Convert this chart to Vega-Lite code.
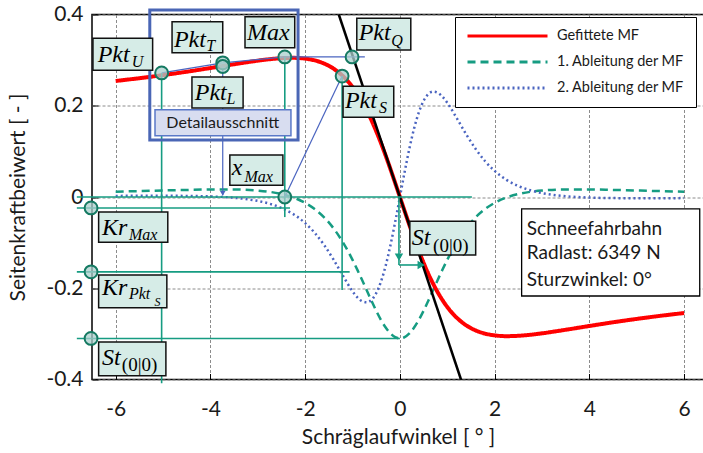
{
  "$schema": "https://vega.github.io/schema/vega-lite/v6.json",
  "width": 612,
  "height": 365,
  "autosize": {"type": "none"},
  "padding": {"left": 92, "top": 14.5, "right": 0, "bottom": 73.5},
  "background": "white",
  "config": {
    "view": {"stroke": "#000", "strokeWidth": 1.5},
    "axis": {
      "domain": false, "grid": true, "gridColor": "#8c8c8c", "gridDash": [3, 2], "gridWidth": 1,
      "tickColor": "#000", "tickSize": -6, "tickWidth": 1,
      "labelFont": "Lato", "labelFontSize": 21, "labelColor": "#1a1a1a", "labelFlush": false, "labelOverlap": false,
      "titleFont": "Lato", "titleFontSize": 21, "titleFontWeight": "normal", "titleColor": "#1a1a1a"
    },
    "legend": {
      "strokeColor": "#000", "fillColor": "#fff", "padding": 11, "labelFont": "Lato", "labelFontSize": 14.5,
      "labelColor": "#1a1a1a", "symbolType": "stroke", "symbolSize": 6400, "rowPadding": 10, "labelOffset": 8,
      "symbolStrokeWidth": 3, "clipHeight": 16
    }
  },
  "encoding": {
    "x": {"field": "x", "type": "quantitative", "scale": {"domain": [-6.5, 6.42], "nice": false, "zero": false},
      "axis": {"values": [-6, -4, -2, 0, 2, 4, 6], "title": "Schräglaufwinkel [ ° ]",
        "labelExpr": "datum.value < 0 ? '-' + format(-datum.value, '~g') : format(datum.value, '~g')",
        "labelPadding": 25, "titleY": 57.5, "titleBaseline": "middle"}},
    "y": {"field": "y", "type": "quantitative", "scale": {"domain": [-0.4, 0.4], "nice": false, "zero": false},
      "axis": {"values": [-0.4, -0.2, 0, 0.2, 0.4], "title": "Seitenkraftbeiwert [ - ]",
        "labelExpr": "datum.value < 0 ? '-' + format(-datum.value, '~g') : format(datum.value, '~g')",
        "labelPadding": 15, "titleX": -74, "titleBaseline": "middle"}}
  },
  "datasets": {
    "mf": [
      {"x": -6, "y": 0.2543}, {"x": -5.5, "y": 0.2604}, {"x": -5, "y": 0.2672}, {"x": -4.5, "y": 0.2746},
      {"x": -4, "y": 0.2827}, {"x": -3.5, "y": 0.291}, {"x": -3, "y": 0.2988}, {"x": -2.75, "y": 0.302},
      {"x": -2.5, "y": 0.3042}, {"x": -2.25, "y": 0.305}, {"x": -2, "y": 0.3033}, {"x": -1.8, "y": 0.2995},
      {"x": -1.6, "y": 0.2925}, {"x": -1.4, "y": 0.2813}, {"x": -1.2, "y": 0.2646}, {"x": -1, "y": 0.241},
      {"x": -0.9, "y": 0.2261}, {"x": -0.8, "y": 0.2091}, {"x": -0.7, "y": 0.1897}, {"x": -0.6, "y": 0.1683},
      {"x": -0.5, "y": 0.1443}, {"x": -0.4, "y": 0.1184}, {"x": -0.3, "y": 0.0906}, {"x": -0.2, "y": 0.0613},
      {"x": -0.1, "y": 0.0309}, {"x": 0, "y": 0},
      {"x": 0.1, "y": -0.0309}, {"x": 0.2, "y": -0.0613}, {"x": 0.3, "y": -0.0906}, {"x": 0.4, "y": -0.1184},
      {"x": 0.5, "y": -0.1443}, {"x": 0.6, "y": -0.1683}, {"x": 0.7, "y": -0.1897}, {"x": 0.8, "y": -0.2091},
      {"x": 0.9, "y": -0.2261}, {"x": 1, "y": -0.241}, {"x": 1.2, "y": -0.2646}, {"x": 1.4, "y": -0.2813},
      {"x": 1.6, "y": -0.2925}, {"x": 1.8, "y": -0.2995}, {"x": 2, "y": -0.3033}, {"x": 2.25, "y": -0.305},
      {"x": 2.5, "y": -0.3042}, {"x": 2.75, "y": -0.302}, {"x": 3, "y": -0.2988}, {"x": 3.5, "y": -0.291},
      {"x": 4, "y": -0.2827}, {"x": 4.5, "y": -0.2746}, {"x": 5, "y": -0.2672}, {"x": 5.5, "y": -0.2604},
      {"x": 6, "y": -0.2543}
    ],
    "d1": [
      {"x": -6, "y": 0.0117}, {"x": -5.5, "y": 0.0129}, {"x": -5, "y": 0.0143}, {"x": -4.5, "y": 0.0155},
      {"x": -4, "y": 0.0165}, {"x": -3.5, "y": 0.0165}, {"x": -3, "y": 0.0141}, {"x": -2.75, "y": 0.0113},
      {"x": -2.5, "y": 0.0065}, {"x": -2.25, "y": -0.0011}, {"x": -2, "y": -0.0128}, {"x": -1.8, "y": -0.0263},
      {"x": -1.6, "y": -0.0445}, {"x": -1.4, "y": -0.0688}, {"x": -1.2, "y": -0.0997}, {"x": -1, "y": -0.1377},
      {"x": -0.9, "y": -0.1591}, {"x": -0.8, "y": -0.1815}, {"x": -0.7, "y": -0.2046}, {"x": -0.6, "y": -0.2274},
      {"x": -0.5, "y": -0.2494}, {"x": -0.4, "y": -0.2693}, {"x": -0.3, "y": -0.2862}, {"x": -0.2, "y": -0.2991},
      {"x": -0.1, "y": -0.3072}, {"x": 0, "y": -0.3099},
      {"x": 0.1, "y": -0.3072}, {"x": 0.2, "y": -0.2991}, {"x": 0.3, "y": -0.2862}, {"x": 0.4, "y": -0.2693},
      {"x": 0.5, "y": -0.2494}, {"x": 0.6, "y": -0.2274}, {"x": 0.7, "y": -0.2046}, {"x": 0.8, "y": -0.1815},
      {"x": 0.9, "y": -0.1591}, {"x": 1, "y": -0.1377}, {"x": 1.2, "y": -0.0997}, {"x": 1.4, "y": -0.0688},
      {"x": 1.6, "y": -0.0445}, {"x": 1.8, "y": -0.0263}, {"x": 2, "y": -0.0128}, {"x": 2.25, "y": -0.0011},
      {"x": 2.5, "y": 0.0065}, {"x": 2.75, "y": 0.0113}, {"x": 3, "y": 0.0141}, {"x": 3.5, "y": 0.0165},
      {"x": 4, "y": 0.0165}, {"x": 4.5, "y": 0.0155}, {"x": 5, "y": 0.0143}, {"x": 5.5, "y": 0.0129},
      {"x": 6, "y": 0.0117}
    ],
    "d2": [
      {"x": -6, "y": 0.0024}, {"x": -5.5, "y": 0.0026}, {"x": -5, "y": 0.0026}, {"x": -4.5, "y": 0.0024},
      {"x": -4, "y": 0.0012}, {"x": -3.5, "y": -0.0017}, {"x": -3, "y": -0.0086}, {"x": -2.75, "y": -0.0148},
      {"x": -2.5, "y": -0.024}, {"x": -2.25, "y": -0.0376}, {"x": -2, "y": -0.0572}, {"x": -1.8, "y": -0.0784},
      {"x": -1.6, "y": -0.1052}, {"x": -1.4, "y": -0.1374}, {"x": -1.2, "y": -0.173}, {"x": -1, "y": -0.2065},
      {"x": -0.9, "y": -0.2197}, {"x": -0.8, "y": -0.2284}, {"x": -0.7, "y": -0.2309}, {"x": -0.6, "y": -0.2256},
      {"x": -0.5, "y": -0.2107}, {"x": -0.4, "y": -0.1856}, {"x": -0.3, "y": -0.1504}, {"x": -0.2, "y": -0.106},
      {"x": -0.1, "y": -0.0549}, {"x": 0, "y": 0},
      {"x": 0.1, "y": 0.0549}, {"x": 0.2, "y": 0.106}, {"x": 0.3, "y": 0.1504}, {"x": 0.4, "y": 0.1856},
      {"x": 0.5, "y": 0.2107}, {"x": 0.6, "y": 0.2256}, {"x": 0.7, "y": 0.2309}, {"x": 0.8, "y": 0.2284},
      {"x": 0.9, "y": 0.2197}, {"x": 1, "y": 0.2065}, {"x": 1.2, "y": 0.173}, {"x": 1.4, "y": 0.1374},
      {"x": 1.6, "y": 0.1052}, {"x": 1.8, "y": 0.0784}, {"x": 2, "y": 0.0572}, {"x": 2.25, "y": 0.0376},
      {"x": 2.5, "y": 0.024}, {"x": 2.75, "y": 0.0148}, {"x": 3, "y": 0.0086}, {"x": 3.5, "y": 0.0017},
      {"x": 4, "y": -0.0012}, {"x": 4.5, "y": -0.0024}, {"x": 5, "y": -0.0026}, {"x": 5.5, "y": -0.0026},
      {"x": 6, "y": -0.0024}
    ],
    "tangent": [{"x": -1.29, "y": 0.4, "x2": 1.29, "y2": -0.4}],
    "tealSeg": [
      {"x": -6.82, "y": 0, "x2": 1.52, "y2": 0},
      {"x": -6.82, "y": -0.024, "x2": -2.32, "y2": -0.024},
      {"x": -6.82, "y": -0.164, "x2": -1.06, "y2": -0.164},
      {"x": -6.82, "y": -0.31, "x2": 0, "y2": -0.31},
      {"x": -5.03, "y": 0.272, "x2": -5.03, "y2": -0.408},
      {"x": -2.43, "y": 0.307, "x2": -2.43, "y2": -0.044},
      {"x": -1.22, "y": 0.265, "x2": -1.22, "y2": -0.204},
      {"x": -0.02, "y": 0, "x2": -0.02, "y2": -0.149},
      {"x": -0.02, "y": -0.149, "x2": 0.44, "y2": -0.149}
    ],
    "blueSeg": [
      {"x": -5.03, "y": 0.272, "x2": -3.74, "y2": 0.294},
      {"x": -3.74, "y": 0.294, "x2": -2.43, "y2": 0.307},
      {"x": -2.43, "y": 0.307, "x2": -0.74, "y2": 0.307},
      {"x": -3.74, "y": 0.286, "x2": -3.74, "y2": 0.004},
      {"x": -2.43, "y": 0, "x2": -1.22, "y2": 0.265}
    ],
    "arrowDown": [{"x": -0.02, "y": -0.132}],
    "arrowRight": [{"x": 0.45, "y": -0.149}],
    "arrowBlue": [{"x": -3.74, "y": 0.008}],
    "points": [
      {"x": -5.03, "y": 0.272}, {"x": -3.74, "y": 0.294}, {"x": -3.74, "y": 0.286}, {"x": -2.43, "y": 0.307},
      {"x": -1.01, "y": 0.307}, {"x": -1.22, "y": 0.265}, {"x": -2.43, "y": 0},
      {"x": -6.52, "y": -0.024}, {"x": -6.52, "y": -0.164}, {"x": -6.52, "y": -0.31}
    ],
    "boxes": [
      {"x": -6.48, "x2": -5.22, "y": 0.348, "y2": 0.278},
      {"x": -4.81, "x2": -3.74, "y": 0.384, "y2": 0.316},
      {"x": -3.27, "x2": -2.22, "y": 0.395, "y2": 0.327},
      {"x": -4.39, "x2": -3.31, "y": 0.263, "y2": 0.195},
      {"x": -0.91, "x2": 0.23, "y": 0.392, "y2": 0.322},
      {"x": -1.2, "x2": -0.13, "y": 0.243, "y2": 0.175},
      {"x": -3.59, "x2": -2.47, "y": 0.092, "y2": 0.026},
      {"x": -6.36, "x2": -4.9, "y": -0.033, "y2": -0.099},
      {"x": -6.36, "x2": -4.92, "y": -0.171, "y2": -0.243},
      {"x": -6.36, "x2": -4.94, "y": -0.318, "y2": -0.392},
      {"x": 0.21, "x2": 1.6, "y": -0.053, "y2": -0.127}
    ],
    "detailFrame": [{"x": -5.28, "x2": -2.15, "y": 0.41, "y2": 0.125}],
    "detailLabel": [{"x": -5.17, "x2": -2.3, "y": 0.191, "y2": 0.134}],
    "detailText": [{"x": -3.74, "y": 0.162, "t": "Detailausschnitt"}],
    "mainText": [
      {"x": -6.38, "y": 0.296, "t": "Pkt"},
      {"x": -4.77, "y": 0.329, "t": "Pkt"},
      {"x": -3.23, "y": 0.344, "t": "Max"},
      {"x": -4.33, "y": 0.213, "t": "Pkt"},
      {"x": -0.87, "y": 0.344, "t": "Pkt"},
      {"x": -1.16, "y": 0.195, "t": "Pkt"},
      {"x": -3.55, "y": 0.048, "t": "x"},
      {"x": -6.29, "y": -0.083, "t": "Kr"},
      {"x": -6.29, "y": -0.215, "t": "Kr"},
      {"x": -6.29, "y": -0.368, "t": "St"},
      {"x": 0.25, "y": -0.105, "t": "St"}
    ],
    "subText": [
      {"x": -5.66, "y": 0.284, "t": "U"},
      {"x": -4.09, "y": 0.321, "t": "T"},
      {"x": -3.66, "y": 0.203, "t": "L"},
      {"x": -0.18, "y": 0.331, "t": "Q"},
      {"x": -0.44, "y": 0.184, "t": "S"},
      {"x": -3.28, "y": 0.033, "t": "Max"},
      {"x": -5.72, "y": -0.094, "t": "Max"},
      {"x": -5.72, "y": -0.224, "t": "Pkt"}
    ],
    "subSubText": [{"x": -5.18, "y": -0.239, "t": "S"}],
    "subUpText": [
      {"x": -5.87, "y": -0.382, "t": "(0|0)"},
      {"x": 0.7, "y": -0.12, "t": "(0|0)"}
    ],
    "infoBox": [{"x": 2.57, "x2": 6.33, "y": -0.026, "y2": -0.217}],
    "infoText": [
      {"x": 2.68, "y": -0.07, "t": "Schneefahrbahn"},
      {"x": 2.68, "y": -0.123, "t": "Radlast: 6349 N"},
      {"x": 2.68, "y": -0.182, "t": "Sturzwinkel: 0°"}
    ]
  },
  "layer": [
    {
      "data": {"name": "d1"},
      "mark": {"type": "line", "interpolate": "monotone", "strokeWidth": 2.5},
      "encoding": {
        "color": {"datum": "1. Ableitung der MF", "type": "nominal",
          "scale": {"domain": ["Gefittete MF", "1. Ableitung der MF", "2. Ableitung der MF"], "range": ["#ff0000", "#169c82", "#4a64c0"]},
          "legend": {"title": null, "orient": "none", "legendX": 363, "legendY": 2.5}},
        "strokeDash": {"datum": "1. Ableitung der MF", "type": "nominal",
          "scale": {"domain": ["Gefittete MF", "1. Ableitung der MF", "2. Ableitung der MF"], "range": [[1, 0], [8, 5], [2, 3]]},
          "legend": {"title": null, "orient": "none", "legendX": 363, "legendY": 2.5}}
      }
    },
    {
      "data": {"name": "d2"},
      "mark": {"type": "line", "interpolate": "monotone", "strokeWidth": 2.5},
      "encoding": {
        "color": {"datum": "2. Ableitung der MF", "type": "nominal",
          "scale": {"domain": ["Gefittete MF", "1. Ableitung der MF", "2. Ableitung der MF"], "range": ["#ff0000", "#169c82", "#4a64c0"]},
          "legend": {"title": null, "orient": "none", "legendX": 363, "legendY": 2.5}},
        "strokeDash": {"datum": "2. Ableitung der MF", "type": "nominal",
          "scale": {"domain": ["Gefittete MF", "1. Ableitung der MF", "2. Ableitung der MF"], "range": [[1, 0], [8, 5], [2, 3]]},
          "legend": {"title": null, "orient": "none", "legendX": 363, "legendY": 2.5}}
      }
    },
    {
      "data": {"name": "mf"},
      "mark": {"type": "line", "interpolate": "monotone", "strokeWidth": 4},
      "encoding": {
        "color": {"datum": "Gefittete MF", "type": "nominal",
          "scale": {"domain": ["Gefittete MF", "1. Ableitung der MF", "2. Ableitung der MF"], "range": ["#ff0000", "#169c82", "#4a64c0"]},
          "legend": {"title": null, "orient": "none", "legendX": 363, "legendY": 2.5}},
        "strokeDash": {"datum": "Gefittete MF", "type": "nominal",
          "scale": {"domain": ["Gefittete MF", "1. Ableitung der MF", "2. Ableitung der MF"], "range": [[1, 0], [8, 5], [2, 3]]},
          "legend": {"title": null, "orient": "none", "legendX": 363, "legendY": 2.5}}
      }
    },
    {
      "data": {"name": "tangent"},
      "mark": {"type": "rule", "color": "#000", "strokeWidth": 2.5},
      "encoding": {"x2": {"field": "x2"}, "y2": {"field": "y2"}}
    },
    {
      "data": {"name": "tealSeg"},
      "mark": {"type": "rule", "color": "#169c82", "strokeWidth": 1.6},
      "encoding": {"x2": {"field": "x2"}, "y2": {"field": "y2"}}
    },
    {
      "data": {"name": "blueSeg"},
      "mark": {"type": "rule", "color": "#4a64c0", "strokeWidth": 1.2},
      "encoding": {"x2": {"field": "x2"}, "y2": {"field": "y2"}}
    },
    {
      "data": {"name": "arrowDown"},
      "mark": {"type": "point", "shape": "triangle-down", "filled": true, "color": "#169c82", "size": 70, "opacity": 1}
    },
    {
      "data": {"name": "arrowRight"},
      "mark": {"type": "point", "shape": "triangle-right", "filled": true, "color": "#169c82", "size": 70, "opacity": 1}
    },
    {
      "data": {"name": "arrowBlue"},
      "mark": {"type": "point", "shape": "triangle-down", "filled": true, "color": "#4a64c0", "size": 30, "opacity": 1}
    },
    {
      "data": {"name": "points"},
      "mark": {"type": "point", "shape": "circle", "filled": true, "fill": "#a9cfcc", "fillOpacity": 0.75, "stroke": "#157a62", "strokeWidth": 2, "strokeOpacity": 1, "size": 165}
    },
    {
      "data": {"name": "detailFrame"},
      "mark": {"type": "rect", "filled": false, "stroke": "#4a66b5", "strokeWidth": 3},
      "encoding": {"x2": {"field": "x2"}, "y2": {"field": "y2"}}
    },
    {
      "data": {"name": "detailLabel"},
      "mark": {"type": "rect", "fill": "#d8ddf0", "stroke": "#5a78c8", "strokeWidth": 1.5},
      "encoding": {"x2": {"field": "x2"}, "y2": {"field": "y2"}}
    },
    {
      "data": {"name": "detailText"},
      "mark": {"type": "text", "font": "Lato", "fontSize": 16, "color": "#1a1a1a", "align": "center", "baseline": "middle"},
      "encoding": {"text": {"field": "t"}}
    },
    {
      "data": {"name": "boxes"},
      "mark": {"type": "rect", "fill": "#d6ece7", "stroke": "#111", "strokeWidth": 1.5},
      "encoding": {"x2": {"field": "x2"}, "y2": {"field": "y2"}}
    },
    {
      "data": {"name": "mainText"},
      "mark": {"type": "text", "font": "Liberation Serif", "fontStyle": "italic", "fontSize": 24, "color": "#000", "align": "left", "baseline": "alphabetic"},
      "encoding": {"text": {"field": "t"}}
    },
    {
      "data": {"name": "subText"},
      "mark": {"type": "text", "font": "Liberation Serif", "fontStyle": "italic", "fontSize": 16, "color": "#000", "align": "left", "baseline": "alphabetic"},
      "encoding": {"text": {"field": "t"}}
    },
    {
      "data": {"name": "subSubText"},
      "mark": {"type": "text", "font": "Liberation Serif", "fontStyle": "italic", "fontSize": 12, "color": "#000", "align": "left", "baseline": "alphabetic"},
      "encoding": {"text": {"field": "t"}}
    },
    {
      "data": {"name": "subUpText"},
      "mark": {"type": "text", "font": "Liberation Serif", "fontSize": 19, "color": "#000", "align": "left", "baseline": "alphabetic"},
      "encoding": {"text": {"field": "t"}}
    },
    {
      "data": {"name": "infoBox"},
      "mark": {"type": "rect", "fill": "#fff", "stroke": "#000", "strokeWidth": 1.3},
      "encoding": {"x2": {"field": "x2"}, "y2": {"field": "y2"}}
    },
    {
      "data": {"name": "infoText"},
      "mark": {"type": "text", "font": "Lato", "fontSize": 19, "color": "#1a1a1a", "align": "left", "baseline": "middle"},
      "encoding": {"text": {"field": "t"}}
    }
  ]
}
